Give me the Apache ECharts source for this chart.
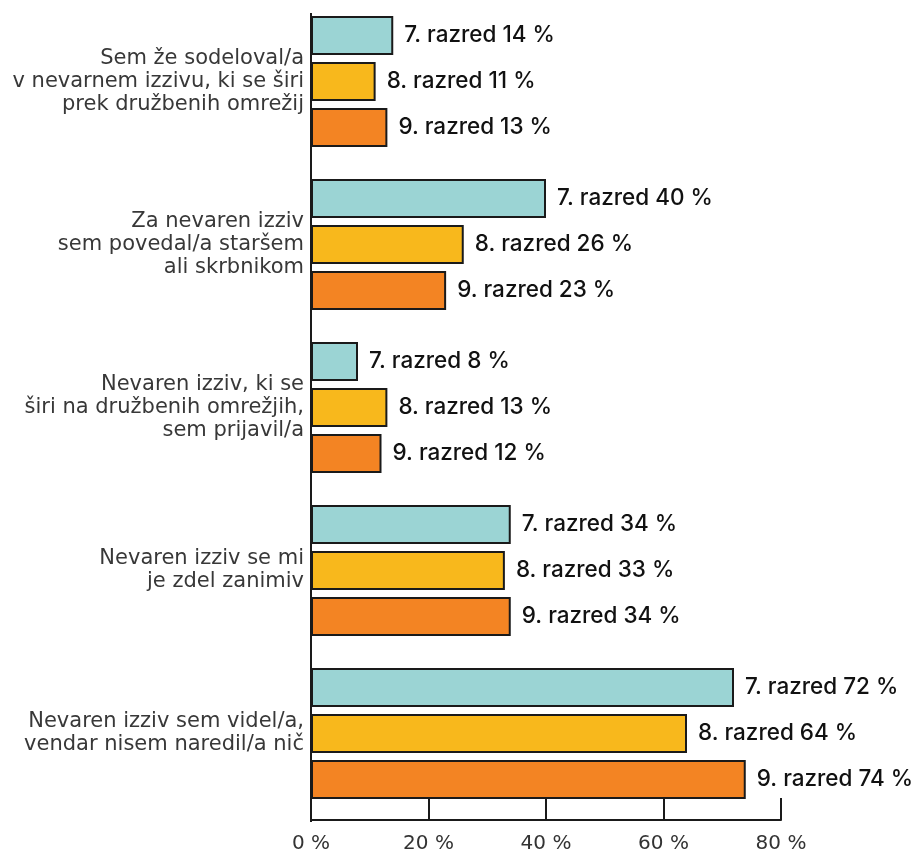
<!DOCTYPE html>
<html><head><meta charset="utf-8">
<script src="https://cdn.jsdelivr.net/npm/echarts@6/dist/echarts.min.js"></script>
<style>html,body{margin:0;padding:0;background:#fff}#c{width:917px;height:854px}</style>
</head><body><div id="c"></div>
<script>
const categories = [
  "Sem že sodeloval/a\nv nevarnem izzivu, ki se širi\nprek družbenih omrežij",
  "Za nevaren izziv\nsem povedal/a staršem\nali skrbnikom",
  "Nevaren izziv, ki se\nširi na družbenih omrežjih,\nsem prijavil/a",
  "Nevaren izziv se mi\nje zdel zanimiv",
  "Nevaren izziv sem videl/a,\nvendar nisem naredil/a nič"
];
const seriesNames = ["7. razred", "8. razred", "9. razred"];
const grade7 = [14, 40, 8, 34, 72];
const grade8 = [11, 26, 13, 33, 64];
const grade9 = [13, 23, 12, 34, 74];
const xTicks = [0, 20, 40, 60, 80];
const colors = ["#9BD4D4", "#F8B81C", "#F38423"];

const chart = echarts.init(document.getElementById('c'), null, {renderer: 'canvas'});
const font = "Inter, sans-serif";
const wide = "'DejaVu Sans', sans-serif";
const data = [grade7, grade8, grade9];
chart.setOption({
  animation: false,
  grid: {left: 311, right: 136, top: -5, height: 822, containLabel: false},
  xAxis: {
    type: 'value', min: xTicks[0], max: xTicks[xTicks.length - 1], interval: 20,
    offset: 5,
    axisLine: {show: true, lineStyle: {color: '#1a1a1a', width: 2}},
    axisTick: {show: true, inside: true, length: 22, lineStyle: {color: '#1a1a1a', width: 2}},
    splitLine: {show: false},
    axisLabel: {formatter: v => v + ' %', color: '#333', fontSize: 20, fontFamily: wide, margin: 14}
  },
  yAxis: {
    type: 'category', data: categories, inverse: true,
    axisLine: {show: false}, axisTick: {show: false},
    axisLabel: {color: '#383838', fontSize: 21, fontFamily: wide, lineHeight: 23, margin: 7, align: 'right'}
  },
  graphic: [{type: 'line', shape: {x1: 311, y1: 13, x2: 311, y2: 822}, style: {stroke: '#1a1a1a', lineWidth: 2}, z: 10}],
  series: data.map((d, i) => ({
    type: 'bar', name: seriesNames[i], data: d,
    barWidth: 39, barGap: '18%',
    itemStyle: {color: colors[i], borderColor: '#1a1a1a', borderWidth: 2},
    label: {show: true, position: 'right', distance: 11,
      formatter: p => seriesNames[i] + ' ' + p.value + ' %',
      color: '#111', fontSize: 22.5, fontWeight: 500, fontFamily: font}
  }))
});
</script></body></html>
